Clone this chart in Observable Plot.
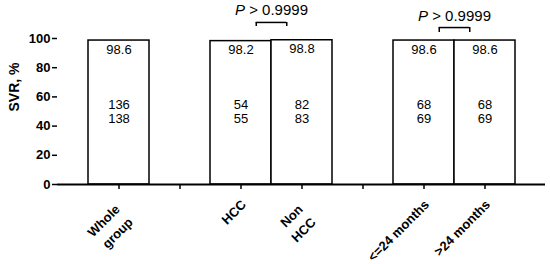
<!DOCTYPE html>
<html><head><meta charset="utf-8">
<script src="https://cdn.jsdelivr.net/npm/d3@7"></script>
<script src="https://cdn.jsdelivr.net/npm/@observablehq/plot@0.6"></script>
<style>body{margin:0;background:#fff} svg{display:block}</style>
</head><body><div id="chart"></div>
<script>
// categories on the x axis (two empty spacer slots)
const categories = ["Whole\ngroup", "gap1", "HCC", "Non\nHCC", "gap2", "<=24 months", ">24 months"];
const spacers = ["gap1", "gap2"];
// bars
const groups = ["Whole\ngroup", "HCC", "Non\nHCC", "<=24 months", ">24 months"];
const svr = [98.6, 98.2, 98.8, 98.6, 98.6];
const responders = [136, 54, 82, 68, 68];
const totals = [138, 55, 83, 69, 69];
// comparisons
const compareA = ["HCC", "<=24 months"];
const compareB = ["Non\nHCC", ">24 months"];
const pValues = ["> 0.9999", "> 0.9999"];
const bracketTop = [111, 107.5];
const bracketLeg = [108.2, 104.1];
const pTextY = [115.8, 112.3];
const yTicks = [0, 20, 40, 60, 80, 100];
const yLabel = "SVR, %";
const countLevel = 50;

const bars = groups.map((g, i) => ({group: g, svr: svr[i], n: responders[i], N: totals[i]}));
const comps = compareA.map((a, i) => ({a, b: compareB[i], p: pValues[i], top: bracketTop[i], leg: bracketLeg[i], ty: pTextY[i]}));
const singleLabels = categories.filter(c => !spacers.includes(c) && !c.includes("\n"));
const multiLabels = categories.filter(c => c.includes("\n"));

const chart = Plot.plot({
  width: 550,
  height: 264,
  marginLeft: 57,
  marginRight: 5,
  marginTop: 38,
  marginBottom: 80,
  style: {fontFamily: "'Liberation Sans', Arial, sans-serif", color: "black", background: "white"},
  x: {domain: categories, paddingInner: 0, paddingOuter: 0.5, align: 0.5},
  y: {domain: [0, 100]},
  marks: [
    Plot.barY(bars, {x: "group", y: "svr", fill: "white", stroke: "black", strokeWidth: 1.5}),
    Plot.text(bars, {x: "group", y: "svr", text: d => d.svr.toFixed(1), dy: 9, lineAnchor: "middle", fontSize: 13, fill: "black"}),
    Plot.ruleY(bars.filter(d => d.n >= 100), {x: "group", y: () => countLevel, dy: -1, insetLeft: 19.5, insetRight: 19.5, stroke: "#b0b0b0", strokeWidth: 1}),
    Plot.ruleY(bars.filter(d => d.n < 100), {x: "group", y: () => countLevel, dy: -1, insetLeft: 23, insetRight: 23, stroke: "#b0b0b0", strokeWidth: 1}),
    Plot.text(bars, {x: "group", y: () => countLevel, text: d => String(d.n), dy: -7, lineAnchor: "middle", fontSize: 13, fill: "black"}),
    Plot.text(bars, {x: "group", y: () => countLevel, text: d => String(d.N), dy: 7, lineAnchor: "middle", fontSize: 13, fill: "black"}),
    // brackets
    Plot.ruleY(comps, {x1: "a", x2: "b", y: "top", insetLeft: 45.75, insetRight: 45.75, stroke: "black", strokeWidth: 1.5}),
    Plot.ruleX(comps, {x: "a", y1: "top", y2: "leg", dx: 15.25, stroke: "black", strokeWidth: 1.5}),
    Plot.ruleX(comps, {x: "b", y1: "top", y2: "leg", dx: -15.25, stroke: "black", strokeWidth: 1.5}),
    Plot.text(comps, {x: "a", y: "ty", text: () => "P", fontStyle: "italic", textAnchor: "start", lineAnchor: "bottom", dx: -6, fontSize: 15, fill: "black"}),
    Plot.text(comps, {x: "a", y: "ty", text: "p", textAnchor: "end", lineAnchor: "bottom", dx: 67, fontSize: 15, fill: "black"}),
    // axes
    Plot.axisY({ticks: yTicks, tickSize: 5, tickPadding: 2, fontSize: 13, fontWeight: "bold", strokeWidth: 1.5, line: true, label: null}),
    Plot.text([yLabel], {frameAnchor: "left", rotate: -90, dx: -43, text: d => d, fontSize: 14, fontWeight: "bold", fill: "black"}),
    Plot.ruleY([0], {strokeWidth: 1.8}),
    Plot.axisX({tickSize: 5, tickFormat: () => "", strokeWidth: 1.5, label: null}),
    Plot.axisX(singleLabels, {tickSize: 0, tickRotate: -45, tickPadding: 18, dx: 3, lineAnchor: "middle", fontSize: 13, fontWeight: "bold", label: null}),
    Plot.axisX(multiLabels, {tickSize: 0, tickRotate: -45, tickPadding: 28, dx: 4, lineAnchor: "middle", lineHeight: 1.42, fontSize: 13, fontWeight: "bold", label: null})
  ]
});
document.getElementById("chart").append(chart);
</script>
</body></html>
